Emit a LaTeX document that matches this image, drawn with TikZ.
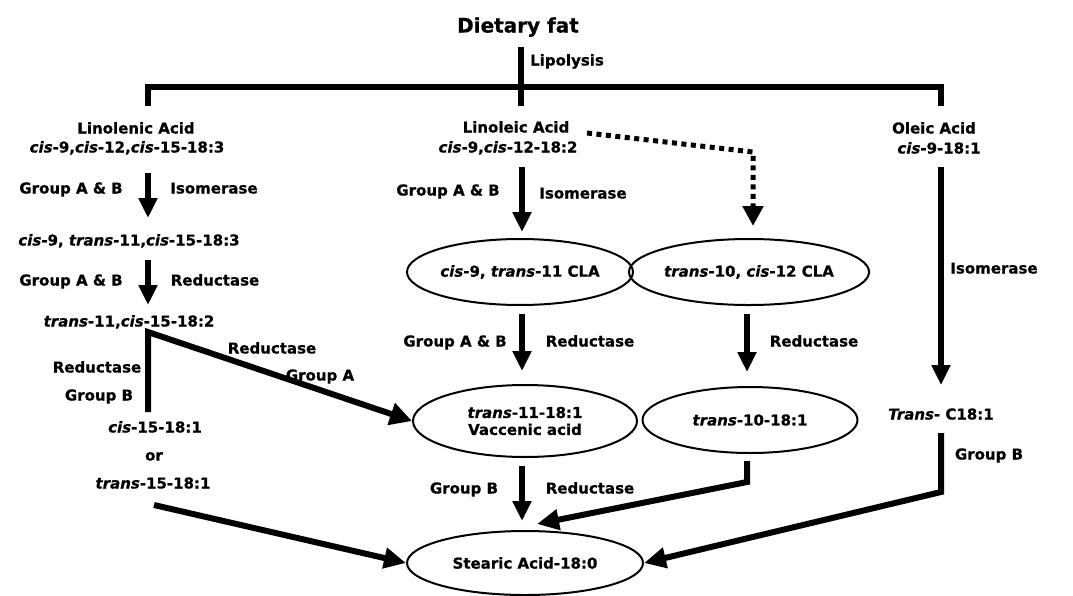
\documentclass[tikz,border=0pt]{standalone}
\usepackage{fontspec}
\setmainfont{DejaVu Sans}[BoldFeatures={FakeBold=0.7},BoldItalicFeatures={FakeBold=0.7}]
\usetikzlibrary{arrows.meta,shapes.geometric}
\newcommand\fsz{\fontsize{15}{18}\selectfont\bfseries}
\newcommand\ii[1]{\textit{#1}}
\tikzset{
  lbl/.style={font=\fsz, inner sep=0pt, text height=11pt, text depth=0pt},
  oval/.style={draw, line width=2pt, ellipse, inner sep=0pt, font=\fsz, align=center},
  arr/.style={line width=6pt, -{Triangle[width=18pt,length=20pt]}},
  bar/.style={line width=6pt, line join=miter},
  dotarr/.style={line width=5pt, dash pattern=on 5pt off 4.5pt, line join=miter,
     -{Triangle[width=20pt,length=20pt]}}
}
\begin{document}
\begin{tikzpicture}[x=1pt,y=-1pt]
\useasboundingbox[fill=white] (0,0) rectangle (1073,595);

% top
\node[lbl, font=\fontsize{20}{24}\selectfont\bfseries, text height=15pt] (diet) at (518,25) {Dietary fat};
\node[lbl, anchor=west] (lipo) at (530,60) {Lipolysis};
\coordinate (stemtop) at (521,47);
\coordinate (stembot) at (521,106);
\coordinate (legL) at (148,106);
\coordinate (legR) at (941,106);
\draw[bar] (stemtop) -- (stembot);
\draw[bar] (legL) -- (legL |- 0,87) -- (legR |- 0,87) -- (legR);

% left column
\node[lbl] (lnA) at (136,128) {Linolenic Acid};
\node[lbl] (lnB) at (127,147) {\ii{cis}-9,\ii{cis}-12,\ii{cis}-15-18:3};
\coordinate (a1s) at (148,173);
\coordinate (a1e) at (148,218);
\draw[arr] (a1s) -- (a1e);
\node[lbl] (g1) at (71,188) {Group A \& B};
\node[lbl] (i1) at (214,188) {Isomerase};
\node[lbl] (ln2) at (129,240) {\ii{cis}-9, \ii{trans}-11,\ii{cis}-15-18:3};
\coordinate (a2s) at (148,260);
\coordinate (a2e) at (148,305);
\draw[arr] (a2s) -- (a2e);
\node[lbl] (g2) at (71,280) {Group A \& B};
\node[lbl] (r2) at (215,280) {Reductase};
\node[lbl] (ln3) at (129,321) {\ii{trans}-11,\ii{cis}-15-18:2};
\node[lbl] (r3) at (97,367) {Reductase};
\node[lbl] (g3) at (99,395) {Group B};
\node[lbl] (r4) at (272,348) {Reductase};
\node[lbl] (g4) at (320,375) {Group A};
\node[lbl] (c15) at (155,427) {\ii{cis}-15-18:1};
\node[lbl] (or) at (154,455) {or};
\node[lbl] (t15) at (153,483) {\ii{trans}-15-18:1};

% middle column
\node[lbl] (loA) at (516,127) {Linoleic Acid};
\node[lbl] (loB) at (508,147) {\ii{cis}-9,\ii{cis}-12-18:2};
\coordinate (m1s) at (522,167);
\coordinate (m1e) at (522,232);
\draw[arr] (m1s) -- (m1e);
\node[lbl] (g5) at (448,190) {Group A \& B};
\node[lbl] (i5) at (583,193) {Isomerase};
\node[oval, minimum width=226pt, minimum height=66pt] (cla1) at (520,272) {\ii{cis}-9, \ii{trans}-11 CLA};
\node[lbl] (g6) at (455,341) {Group A \& B};
\node[lbl] (r6) at (590,341) {Reductase};
\node[oval, minimum width=224pt, minimum height=72pt] (vac) at (525,421) {\ii{trans}-11-18:1\\[-1pt]Vaccenic acid};
\node[lbl] (g7) at (464,488) {Group B};
\node[lbl] (r7) at (590,488) {Reductase};
\node[oval, minimum width=236pt, minimum height=64pt] (stear) at (525,563) {Stearic Acid-18:0};
\draw[arr, shorten <=8pt, shorten >=13pt] (cla1.south -| 522,0) -- (vac.north -| 522,0);
\draw[arr, shorten <=8pt, shorten >=9pt] (vac.south -| 522,0) -- (stear.north -| 522,0);

% left branch
\coordinate (brB) at (148,412);
\coordinate (brT) at (148,332);
\draw[bar, -{Triangle[width=22pt,length=22pt]}] (brB) -- (brT) -- (vac.west);
\coordinate (t15s) at (154,505);
\draw[arr, -{Triangle[width=20pt,length=22pt]}] (t15s) -- (stear.west);

% right-middle column
\node[oval, minimum width=219pt, minimum height=66pt] (cla2) at (749,272) {\ii{trans}-10, \ii{cis}-12 CLA};
\coordinate (dotS) at (587,133);
\coordinate (dotK) at (753,152);
\draw[dotarr, shorten >=12pt] (dotS) -- (dotK) -- (dotK |- cla2.north);
\node[oval, minimum width=215pt, minimum height=66pt] (t10) at (750,420) {\ii{trans}-10-18:1};
\draw[arr, shorten <=8pt, shorten >=14pt] (cla2.south -| 747,0) -- (t10.north -| 747,0);
\node[lbl] (r8) at (814,341) {Reductase};
\coordinate (t10k) at (747,482);
\draw[bar, -{Triangle[width=20pt,length=22pt]}, shorten <=7pt] (t10.south -| t10k) -- (t10k) -- (537,524);

% right column
\node[lbl] (olA) at (934,128) {Oleic Acid};
\node[lbl] (olB) at (939,148) {\ii{cis}-9-18:1};
\coordinate (o1s) at (941,167);
\coordinate (o1e) at (941,385);
\draw[arr] (o1s) -- (o1e);
\node[lbl] (i9) at (994,268) {Isomerase};
\node[lbl] (tc) at (941,414) {\ii{Trans}- C18:1};
\coordinate (o2s) at (941,433);
\coordinate (o2k) at (941,492);
\draw[bar, -{Triangle[width=20pt,length=22pt]}] (o2s) -- (o2k) -- (stear.east);
\node[lbl] (g9) at (989,454) {Group B};
\end{tikzpicture}
\end{document}
